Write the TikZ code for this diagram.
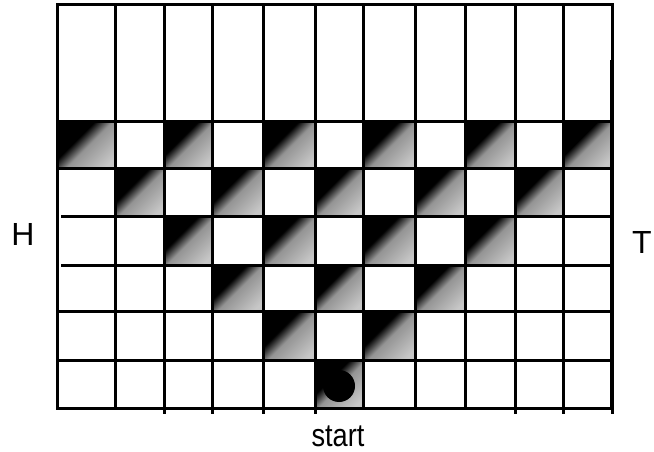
\documentclass[tikz,border=0pt]{standalone}
\usepackage{fontspec}
\setmainfont{Liberation Sans}
\colorlet{shlight}{black!22}
\colorlet{shmid}{black!42}
\pgfdeclareverticalshading{cellshade}{100bp}{color(0bp)=(shlight); color(22bp)=(shlight); color(48bp)=(shmid); color(60bp)=(black); color(100bp)=(black)}
\begin{document}
\begin{tikzpicture}[x=1pt,y=-1pt,
  gridline/.style={line width=3pt, line cap=rect},
  shadedcell/.style={shading=cellshade, shading angle=45},
  lab/.style={font=\fontsize{32}{32}\selectfont, inner sep=0pt}]
\useasboundingbox (0,0) rectangle (654,452);
\def\colx{{57,115,164,212,263,315,363,415,465,515,563,612}}
\def\rowy{{5,122,168,216,265,311,360,408}}
% shaded cells: row index / list of column indices
\foreach \r/\cs in {1/{0,2,4,6,8,10}, 2/{1,3,5,7,9}, 3/{2,4,6,8}, 4/{3,5,7}, 5/{4,6}, 6/{5}}{
  \foreach \c in \cs {
    \pgfmathsetmacro\xl{\colx[\c]}
    \pgfmathsetmacro\xr{\colx[\c+1]}
    \pgfmathsetmacro\yt{\rowy[\r]}
    \pgfmathsetmacro\yb{\rowy[\r+1]}
    \shade[shadedcell] (\xl,\yt) rectangle (\xr,\yb);
  }
}
% start token
\fill[black] (339,386) circle (16);
% grid
\draw[gridline] (57,5) rectangle (612,408);
\draw[line width=4.5pt] (612,60) -- (612,410);
\foreach \x in {115,164,212,263,315,363,415,465,515,563}{
  \draw[gridline] (\x,5) -- (\x,408);
}
\foreach \x in {164,212,263,315,515,563}{
  \draw[gridline] (\x,408) -- (\x,412);
}
\draw[gridline] (612,408) -- (612,412);
\foreach \y in {122,168,311,360}{
  \draw[gridline] (57,\y) -- (612,\y);
}
\foreach \y in {216,265}{
  \draw[gridline] (62,\y) -- (612,\y);
}
% labels
\node[lab] (H) at (23,234) {H};
\node[lab] (T) at (642,242) {T};
\node[lab] (start) at (338,436) {\scalebox{0.85}[1]{start}};
\end{tikzpicture}
\end{document}
